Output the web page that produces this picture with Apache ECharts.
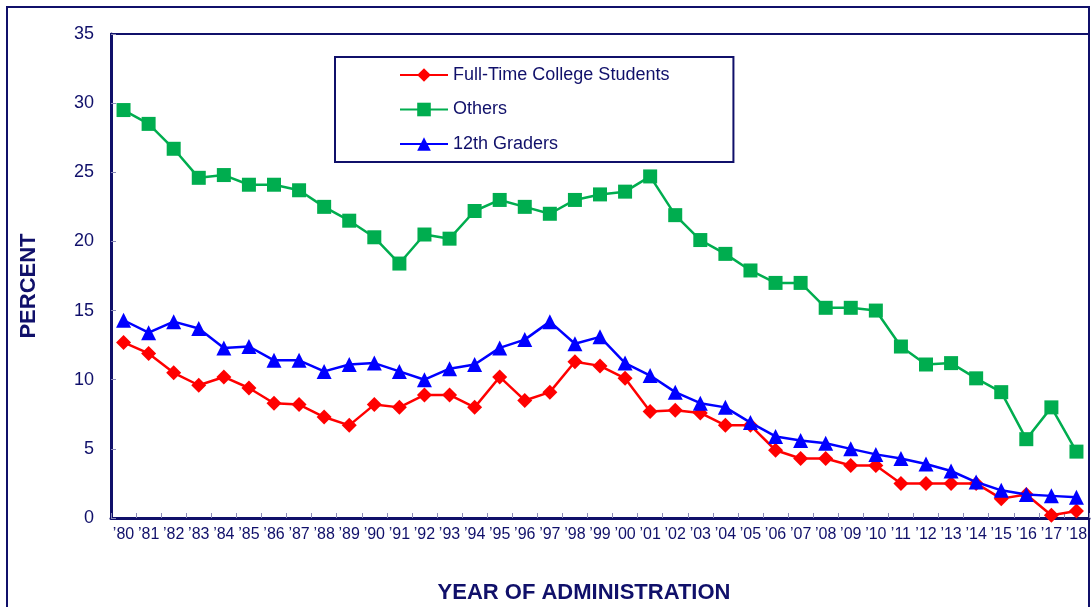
<!DOCTYPE html>
<html>
<head>
<meta charset="utf-8">
<script src="https://cdn.jsdelivr.net/npm/echarts@6/dist/echarts.min.js"></script>
<style>html,body{margin:0;padding:0;background:#fff}#c{width:1092px;height:607px}</style>
</head>
<body>
<div id="c"></div>
<script>
const years = ["\u201980","\u201981","\u201982","\u201983","\u201984","\u201985","\u201986","\u201987","\u201988","\u201989","\u201990","\u201991","\u201992","\u201993","\u201994","\u201995","\u201996","\u201997","\u201998","\u201999","\u201900","\u201901","\u201902","\u201903","\u201904","\u201905","\u201906","\u201907","\u201908","\u201909","\u201910","\u201911","\u201912","\u201913","\u201914","\u201915","\u201916","\u201917","\u201918"];
const collegeStudents = [12.7,11.9,10.5,9.6,10.2,9.4,8.3,8.2,7.3,6.7,8.2,8.0,8.9,8.9,8.0,10.2,8.5,9.1,11.3,11.0,10.1,7.7,7.8,7.6,6.7,6.7,4.9,4.3,4.3,3.8,3.8,2.5,2.5,2.5,2.5,1.4,1.7,0.2,0.5];
const others = [29.5,28.5,26.7,24.6,24.8,24.1,24.1,23.7,22.5,21.5,20.3,18.4,20.5,20.2,22.2,23.0,22.5,22.0,23.0,23.4,23.6,24.7,21.9,20.1,19.1,17.9,17.0,17.0,15.2,15.2,15.0,12.4,11.1,11.2,10.1,9.1,5.7,8.0,4.8];
const graders12 = [14.3,13.4,14.2,13.7,12.3,12.4,11.4,11.4,10.6,11.1,11.2,10.6,10.0,10.8,11.1,12.3,12.9,14.2,12.6,13.1,11.2,10.3,9.1,8.3,8.0,6.9,5.9,5.6,5.4,5.0,4.6,4.3,3.9,3.4,2.6,2.0,1.7,1.6,1.5];
const yTicks = {min: 0, max: 35, interval: 5};

const navy = '#10106a';
const font = '"Liberation Sans", Arial, sans-serif';
const chart = echarts.init(document.getElementById('c'), null, {renderer: 'canvas'});
chart.setOption({
  animation: false,
  backgroundColor: '#fff',
  grid: {left: 111, right: 3, top: 34, bottom: 89, show: true, borderColor: navy, borderWidth: 2, backgroundColor: 'transparent'},
  legend: {
    orient: 'vertical', left: 335, top: 57,
    borderColor: navy, borderWidth: 2, borderRadius: 0,
    padding: [8, 64, 8, 64],
    itemWidth: 48, itemHeight: 17, itemGap: 14.5,
    textStyle: {color: navy, fontSize: 18, fontFamily: font, lineHeight: 20},
    data: ['Full-Time College Students', 'Others', '12th Graders']
  },
  xAxis: {
    type: 'category', data: years, boundaryGap: true,
    axisLine: {lineStyle: {color: navy, width: 3}},
    axisTick: {show: true, inside: true, length: 5, lineStyle: {color: '#8a8ab8', width: 1}},
    axisLabel: {interval: 0, color: navy, fontSize: 16, fontFamily: font, margin: 9},
    splitLine: {show: false}
  },
  yAxis: {
    type: 'value', min: yTicks.min, max: yTicks.max, interval: yTicks.interval,
    axisLine: {show: true, lineStyle: {color: navy, width: 3}},
    axisTick: {show: true, inside: true, length: 5, lineStyle: {color: '#8a8ab8', width: 1}},
    axisLabel: {color: navy, fontSize: 18, fontFamily: font, margin: 17},
    splitLine: {show: false}
  },
  graphic: [
    {type: 'rect', shape: {x: 7, y: 7, width: 1082, height: 640}, style: {fill: 'none', stroke: navy, lineWidth: 2}, z: -1, silent: true},
    {type: 'text', x: 29, y: 286, rotation: Math.PI / 2, style: {text: 'PERCENT', fill: navy, font: 'bold 22px ' + font, textAlign: 'center', textVerticalAlign: 'middle'}},
    {type: 'text', x: 584, y: 593, style: {text: 'YEAR OF ADMINISTRATION', fill: navy, font: 'bold 22px ' + font, textAlign: 'center', textVerticalAlign: 'middle'}}
  ],
  series: [
    {name: 'Full-Time College Students', type: 'line', data: collegeStudents, symbol: 'diamond', symbolSize: 15,
     lineStyle: {color: '#ff0000', width: 2.5}, itemStyle: {color: '#ff0000'}, z: 4},
    {name: 'Others', type: 'line', data: others, symbol: 'rect', symbolSize: 14,
     lineStyle: {color: '#00ad4f', width: 2.5}, itemStyle: {color: '#00ad4f'}, z: 3},
    {name: '12th Graders', type: 'line', data: graders12, symbol: 'triangle', symbolSize: 15,
     lineStyle: {color: '#0000ff', width: 2.5}, itemStyle: {color: '#0000ff'}, z: 5}
  ]
});
</script>
</body>
</html>
